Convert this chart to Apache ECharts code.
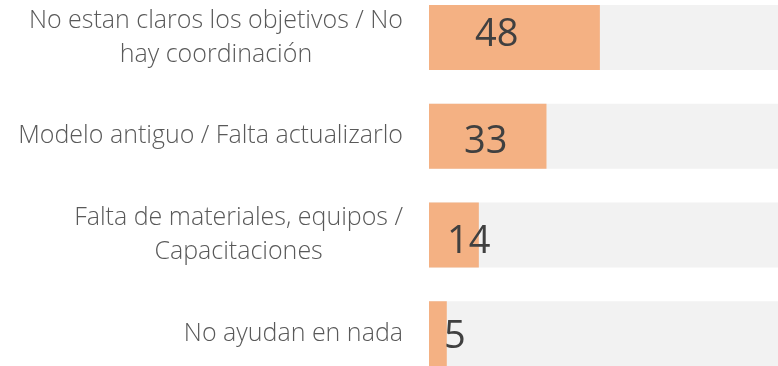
<!DOCTYPE html>
<html>
<head>
<meta charset="utf-8">
<script src="https://cdn.jsdelivr.net/npm/echarts@6/dist/echarts.min.js"></script>
<style>
  html, body { margin: 0; padding: 0; background: #ffffff; }
  #chart { width: 778px; height: 366px; }
</style>
</head>
<body>
<div id="chart"></div>
<script>
// Reasons given, with the number of mentions for each
const categories = [
  'No estan claros los objetivos / No\nhay coordinación',
  'Modelo antiguo / Falta actualizarlo',
  'Falta de materiales, equipos /\nCapacitaciones',
  'No ayudan en nada'
];
const counts = [48, 33, 14, 5];
const axisMax = 100;

// Hand-placed value labels: [x from bar start, y shift]
const labelOffsets = [[46, -2], [35, 6], [18, 7], [15, 4]];

const chart = echarts.init(document.getElementById('chart'), null, { renderer: 'canvas' });

chart.setOption({
  animation: false,
  grid: {
    left: 429, top: -12, width: 356, height: 395,
    containLabel: false,
    outerBoundsMode: 'none'
  },
  xAxis: {
    type: 'value',
    min: 0,
    max: axisMax,
    show: false
  },
  yAxis: {
    type: 'category',
    data: categories,
    inverse: true,
    axisLine: { show: false },
    axisTick: { show: false },
    splitLine: { show: false },
    axisLabel: {
      margin: 26,
      align: 'right',
      color: '#595959',
      fontFamily: 'Open Sans',
      fontWeight: 300,
      fontSize: 25,
      lineHeight: 34,
      formatter: function (value) {
        return value.split('\n').map(function (line) { return '{c|' + line + '}'; }).join('\n');
      },
      rich: {
        c: {
          align: 'center',
          color: '#595959',
          fontFamily: 'Open Sans',
          fontWeight: 300,
          fontSize: 25,
          lineHeight: 34
        }
      }
    }
  },
  series: [{
    type: 'bar',
    barWidth: 65,
    showBackground: true,
    backgroundStyle: { color: '#f2f2f2' },
    itemStyle: { color: '#f4b183' },
    data: counts.map(function (v, i) {
      return {
        value: v,
        label: {
          show: true,
          position: 'insideLeft',
          distance: labelOffsets[i][0],
          offset: [0, labelOffsets[i][1]],
          color: '#404040',
          fontFamily: 'Open Sans',
          fontSize: 38
        }
      };
    })
  }]
});
</script>
</body>
</html>
